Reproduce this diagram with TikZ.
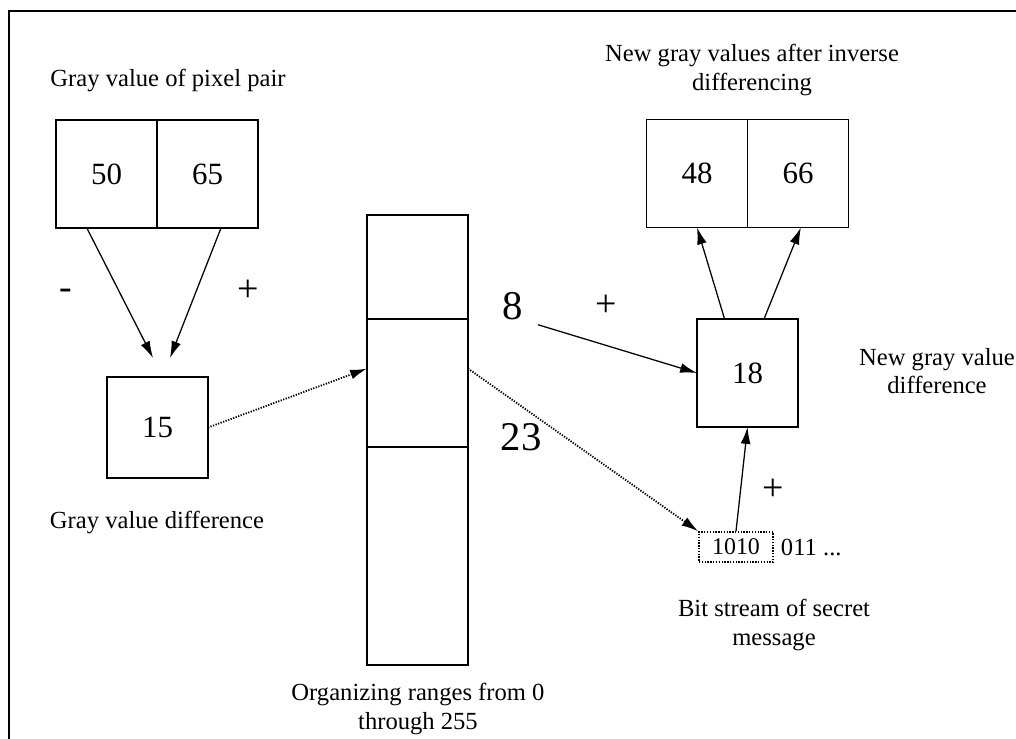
\documentclass[tikz,border=0pt]{standalone}
\usepackage{fontspec}
\setmainfont{Liberation Serif}
\usetikzlibrary{positioning,arrows.meta}

\begin{document}
\begin{tikzpicture}[x=0.025cm,y=-0.025cm,
    cell/.style = {draw, line width=1pt, outer sep=0pt, minimum width=2.525cm, minimum height=2.7cm, font=\fontsize{22}{26}\selectfont},
    rng/.style = {draw, line width=1pt, outer sep=0pt, minimum width=2.525cm},
    lbl/.style = {align=center, font=\fontsize{17.5}{20}\selectfont},
    big/.style = {font=\fontsize{29}{32}\selectfont},
    sgn/.style = {font=\fontsize{27}{29}\selectfont},
    arr/.style = {-{Latex[length=12pt,width=7pt]}, line width=0.9pt},
    dots/.style = {arr, densely dotted, line width=1.3pt}]
      \useasboundingbox (0,0) rectangle (1016,738);
      \draw[line width=1.8pt] (9,750) |- (1030,11);

      % pixel pair and its difference
      \node[cell](p50) at (106.5,174) {50};
      \node[cell](p65)[right=0pt of p50] {65};
      \node[lbl](t1) at (168,80) {Gray value of pixel pair};
      \node[cell, minimum height=2.525cm](d15) at (157.5,427.5) {15};
      \node[lbl](t2) at (157,522) {Gray value difference};
      \node[sgn](minus) at (66,294) {-};
      \node[sgn](plus1) at (248,291) {+};
      \coordinate (in15a) at (153,358);
      \coordinate (in15b) at (170,358);

      % ranges
      \node[rng, minimum height=2.6cm](r1) at (417.5,267) {};
      \node[rng, minimum height=3.2cm](r2)[below=0pt of r1] {};
      \node[rng, minimum height=5.45cm](r3)[below=0pt of r2] {};
      \node[lbl](t3) at (418,709) {Organizing ranges from 0\\through 255};

      % new values
      \node[cell](n48) at (697,173.5) {48};
      \node[cell](n66)[right=0pt of n48] {66};
      \node[lbl](t4) at (752,70) {New gray values after inverse\\differencing};
      \node[cell](d18) at (747.5,373) {18};
      \node[lbl](t5) at (937,371) {New gray value\\difference};
      \node[big](eight) at (513,306) {8};
      \node[sgn](plus2) at (606,306) {+};
      \node[big](n23) at (521,437) {23};
      \node[sgn](plus3) at (773,490) {+};

      % bit stream
      \node[draw, densely dotted, line width=1pt, minimum width=1.85cm, minimum height=0.75cm, font=\fontsize{17}{20}\selectfont](bits) at (736,547) {1010};
      \node[lbl, anchor=west](rest) at (776,547) {011 ...};
      \node[lbl](t6) at (774,625) {Bit stream of secret\\message};

      \draw[arr] (p50.250) -- (in15a);
      \draw[arr] (p65.284) -- (in15b);
      \draw[dots] (d15.east) -- (r2.164.5);
      \draw[dots] (r2.16.5) -- (bits.north west);
      \draw[arr] ([xshift=7pt]eight.south east) -- (d18.west);
      \draw[arr] (d18.113.5) -- (n48.south);
      \draw[arr] (d18.73) -- (n66.273);
      \draw[arr] (bits.north) -- (d18.south);

    \end{tikzpicture}
\end{document}
